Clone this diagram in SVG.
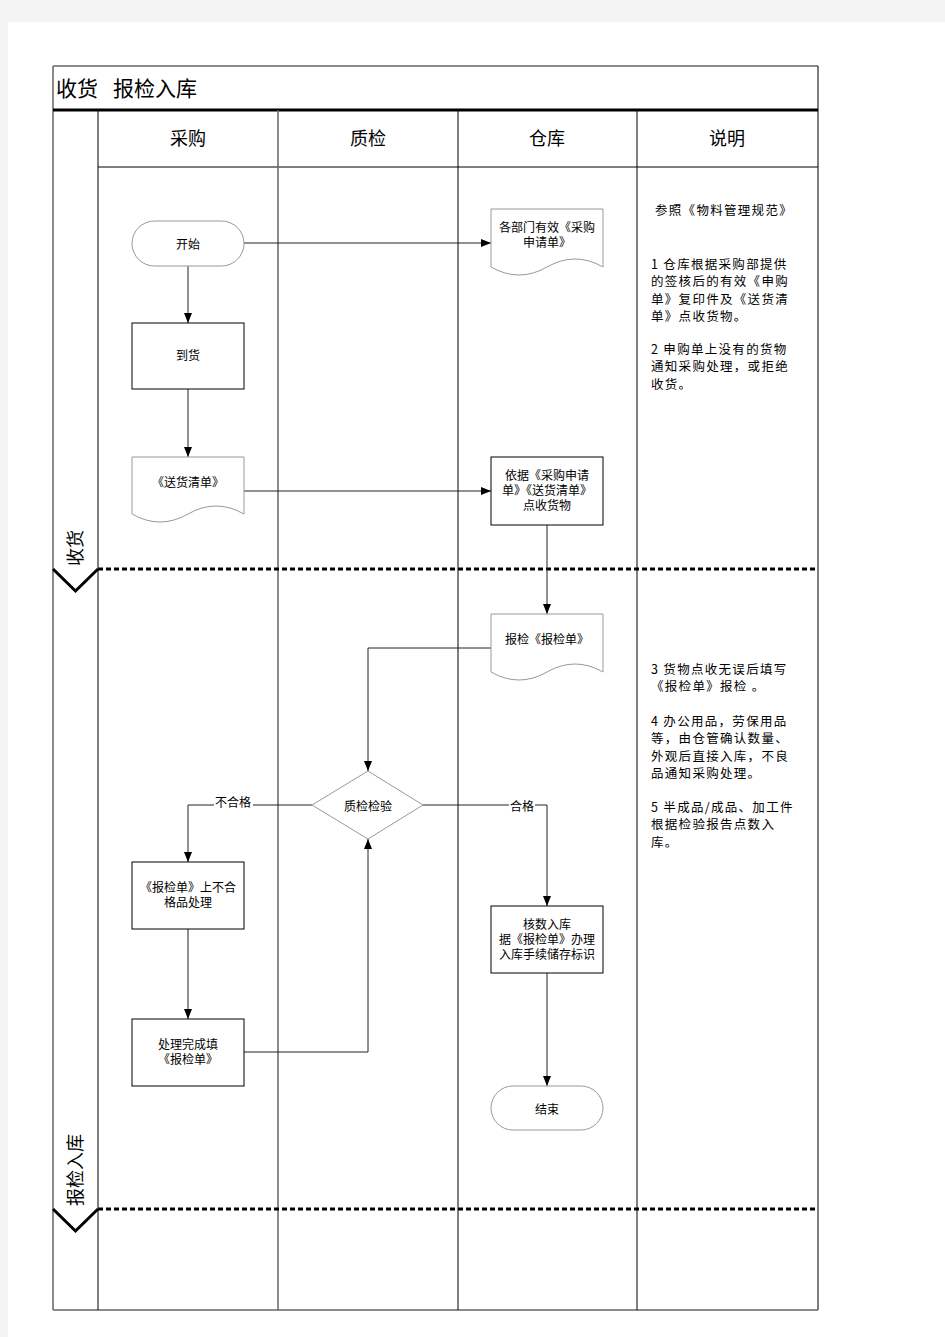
<svg xmlns="http://www.w3.org/2000/svg" width="945" height="1337" viewBox="0 0 945 1337">
<style>
text{font-family:"Noto Sans CJK SC","Noto Sans",sans-serif;fill:#000}
.n{font-size:12px;text-anchor:middle;dominant-baseline:central}
.h{font-size:18px;text-anchor:middle;dominant-baseline:central}
.d{font-size:12.5px;letter-spacing:1.3px;dominant-baseline:central}
.lane{font-size:18px;text-anchor:middle;dominant-baseline:central}
.box{fill:#fff;stroke:#000;stroke-width:1}
.soft{fill:#fff;stroke:#999;stroke-width:1}
.c{fill:none;stroke:#222;stroke-width:1}
.sep{fill:none;stroke:#000;stroke-width:3;stroke-dasharray:5,3}
.chev{fill:none;stroke:#000;stroke-width:3}
.g{stroke:#666;stroke-width:1.5;fill:none}
.k{stroke:#000;stroke-width:1;fill:none}
</style>
<defs>
<marker id="ah" markerUnits="userSpaceOnUse" markerWidth="10" markerHeight="8" refX="10" refY="4" orient="auto">
<path d="M0,0 L10,4 L0,8 z" fill="#000"/>
</marker>
</defs>
<rect x="0" y="0" width="945" height="1337" fill="#f4f4f4"/>
<rect x="8" y="22" width="937" height="1315" fill="#fff"/>

<g id="table">
<line class="g" x1="53" y1="66" x2="818" y2="66"/>
<line class="g" x1="53" y1="66" x2="53" y2="1310"/>
<line class="k" x1="818" y1="66" x2="818" y2="1310" stroke-width="1.5"/>
<line class="g" x1="53" y1="1310" x2="818" y2="1310"/>
<line x1="53" y1="110" x2="818" y2="110" stroke="#000" stroke-width="3"/>
<line class="k" x1="98" y1="167" x2="818" y2="167"/>
<line class="k" x1="98" y1="110" x2="98" y2="1310"/>
<line class="g" x1="278" y1="110" x2="278" y2="1310"/>
<line class="k" x1="458" y1="110" x2="458" y2="1310"/>
<line class="k" x1="637" y1="110" x2="637" y2="1310"/>
<text x="56" y="87" font-size="21" dominant-baseline="central">收货</text>
<text x="113" y="87" font-size="21" dominant-baseline="central">报检入库</text>
<text class="h" x="188" y="137">采购</text>
<text class="h" x="368" y="137">质检</text>
<text class="h" x="547" y="137">仓库</text>
<text class="h" x="727" y="137">说明</text>
</g>

<g id="lane-shouhuo">
<line class="sep" x1="98" y1="569" x2="818" y2="569"/>
<polyline class="chev" points="53,569 75.5,591 98,569"/>
<text class="lane" transform="translate(74,548) rotate(-90)">收货</text>
</g>
<g id="lane-baojian">
<line class="sep" x1="98" y1="1209" x2="818" y2="1209"/>
<polyline class="chev" points="53,1209 75.5,1231 98,1209"/>
<text class="lane" transform="translate(74,1170) rotate(-90)">报检入库</text>
</g>

<g id="connectors">
<line class="c" x1="244" y1="243" x2="491" y2="243" marker-end="url(#ah)"/>
<line class="c" x1="188" y1="266" x2="188" y2="323" marker-end="url(#ah)"/>
<line class="c" x1="188" y1="389" x2="188" y2="457" marker-end="url(#ah)"/>
<line class="c" x1="244" y1="491" x2="491" y2="491" marker-end="url(#ah)"/>
<line class="c" x1="547" y1="525" x2="547" y2="614" marker-end="url(#ah)"/>
<polyline class="c" points="491,648 368,648 368,771" marker-end="url(#ah)"/>
<polyline class="c" points="312,805 188,805 188,862" marker-end="url(#ah)"/>
<polyline class="c" points="423,805 547,805 547,906" marker-end="url(#ah)"/>
<line class="c" x1="188" y1="929" x2="188" y2="1019" marker-end="url(#ah)"/>
<polyline class="c" points="244,1052 368,1052 368,839" marker-end="url(#ah)"/>
<line class="c" x1="547" y1="973" x2="547" y2="1086" marker-end="url(#ah)"/>
<rect x="214" y="795" width="39" height="13" fill="#fff"/>
<text class="n" x="233" y="801">不合格</text>
<rect x="509" y="798" width="26" height="14" fill="#fff"/>
<text class="n" x="522" y="805">合格</text>
</g>

<g id="start">
<rect class="soft" x="132" y="221" width="112" height="45" rx="22.5" ry="22.5"/>
<text class="n" x="188" y="243">开始</text>
</g>
<g id="arrive">
<rect class="box" x="132" y="323" width="112" height="66"/>
<text class="n" x="188" y="354">到货</text>
</g>
<g id="delivery-list">
<path class="soft" d="M132,457 H244 V514 Q216,498 188,514 T132,514 Z"/>
<text class="n" x="188" y="481">《送货清单》</text>
</g>
<g id="purchase-request">
<path class="soft" d="M491,209 H603 V267 Q575,251 547,267 T491,267 Z"/>
<text class="n" x="547" y="226">各部门有效《采购<tspan x="547" dy="15">申请单》</tspan></text>
</g>
<g id="check-goods">
<rect class="box" x="491" y="457" width="112" height="68"/>
<text class="n" x="547" y="474">依据《采购申请<tspan x="547" dy="15">单》《送货清单》</tspan><tspan x="547" dy="15">点收货物</tspan></text>
</g>
<g id="inspect-form">
<path class="soft" d="M491,614 H603 V672 Q575,656 547,672 T491,672 Z"/>
<text class="n" x="547" y="638">报检《报检单》</text>
</g>
<g id="qc">
<polygon class="soft" points="368,771 423,805 368,839 312,805"/>
<text class="n" x="368" y="805">质检检验</text>
</g>
<g id="reject">
<rect class="box" x="132" y="862" width="112" height="67"/>
<text class="n" x="188" y="886">《报检单》上不合<tspan x="188" dy="15">格品处理</tspan></text>
</g>
<g id="done-fill">
<rect class="box" x="132" y="1019" width="112" height="67"/>
<text class="n" x="188" y="1043">处理完成填<tspan x="188" dy="15">《报检单》</tspan></text>
</g>
<g id="store">
<rect class="box" x="491" y="906" width="112" height="67"/>
<text class="n" x="547" y="923">核数入库<tspan x="547" dy="15">据《报检单》办理</tspan><tspan x="547" dy="15">入库手续储存标识</tspan></text>
</g>
<g id="end">
<rect class="soft" x="491" y="1086" width="112" height="44" rx="22" ry="22"/>
<text class="n" x="547" y="1108">结束</text>
</g>

<g id="notes">
<text class="d" x="655" y="209">参照《物料管理规范》</text>
<text class="d" x="651" y="263">1 仓库根据采购部提供<tspan x="651" dy="17.3">的签核后的有效《申购</tspan><tspan x="651" dy="17.3">单》复印件及《送货清</tspan><tspan x="651" dy="17.3">单》点收货物。</tspan></text>
<text class="d" x="651" y="348">2 申购单上没有的货物<tspan x="651" dy="17.3">通知采购处理，或拒绝</tspan><tspan x="651" dy="17.3">收货。</tspan></text>
<text class="d" x="651" y="668">3 货物点收无误后填写<tspan x="651" dy="17.3">《报检单》报检 。</tspan></text>
<text class="d" x="651" y="720">4 办公用品，劳保用品<tspan x="651" dy="17.3">等，由仓管确认数量、</tspan><tspan x="651" dy="17.3">外观后直接入库，不良</tspan><tspan x="651" dy="17.3">品通知采购处理。</tspan></text>
<text class="d" x="651" y="806">5 半成品/成品、加工件<tspan x="651" dy="17.3">根据检验报告点数入</tspan><tspan x="651" dy="17.3">库。</tspan></text>
</g>
</svg>
